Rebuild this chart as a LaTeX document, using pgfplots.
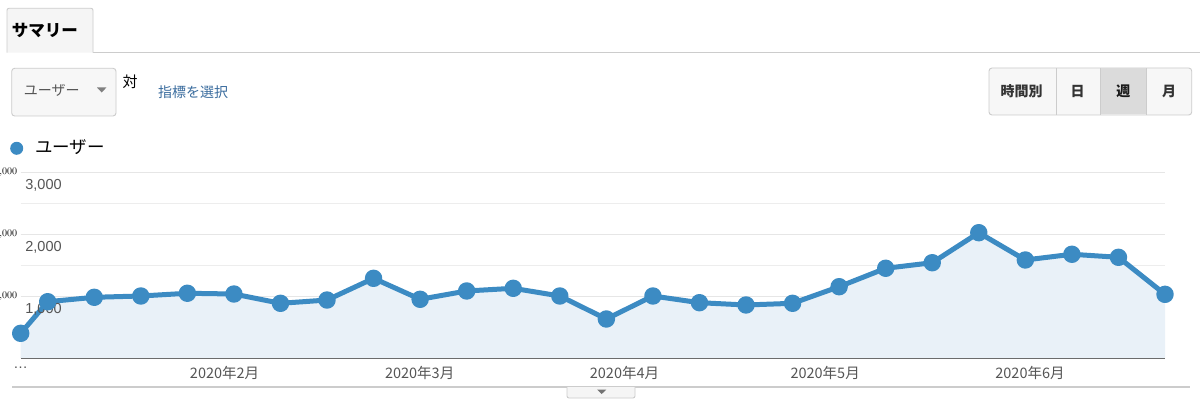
\documentclass[border=0pt]{standalone}
\usepackage{fontspec}
\setmainfont{Liberation Sans}
\newfontfamily\jp{Noto Sans CJK JP}
\usepackage{pgfplots}
\pgfplotsset{compat=1.18}
\definecolor{gaBlue}{HTML}{3C8BC3}
\definecolor{gaFill}{HTML}{E9F1F8}
\definecolor{gridc}{HTML}{E6E6E6}
\definecolor{linkc}{HTML}{3A6C9E}
\definecolor{borderc}{HTML}{CCCCCC}
\definecolor{tickc}{HTML}{555555}
\tikzset{ylab/.style={anchor=north west, inner sep=0pt, xshift=4.5pt, yshift=-7pt, font=\fontsize{14.5}{14.5}\selectfont, text=tickc}}
\begin{document}
\begin{tikzpicture}[x=1pt,y=1pt]
\fill[white] (0,0) rectangle (1200,410);
\useasboundingbox (0,0) rectangle (1200,410);
% tab
\draw[borderc, line width=0.9pt] (93,357.3) -- (1200,357.3);
\draw[borderc, fill=black!4, line width=0.9pt, rounded corners=2pt] (7,357.3) -- (7,401.7) -- (93,401.7) -- (93,357.3);
\node[font=\jp\bfseries\fontsize{16.5}{17}\selectfont] at (45,379.5) {サマリー};
% dropdown
\draw[borderc, fill=black!3, line width=0.9pt, rounded corners=3pt] (11.7,294) rectangle (116,341.7);
\node[font=\jp\fontsize{14}{14}\selectfont, text=tickc] at (51.7,320) {ユーザー};
\fill[black!50] (97,322.5) -- (106.4,322.5) -- (101.7,317.5) -- cycle;
\node[font=\jp\fontsize{15}{15}\selectfont] at (130,328) {対};
\node[font=\jp\fontsize{14}{14}\selectfont, text=linkc] at (193,318.3) {指標を選択};
% buttons
\draw[borderc, fill=black!3, line width=0.9pt, rounded corners=3pt] (989,295) rectangle (1191.7,342);
\fill[black!14] (1100.7,295.5) rectangle (1146,341.5);
\draw[borderc, line width=0.9pt] (1056,295) -- (1056,342);
\draw[borderc, line width=0.9pt] (1100.7,295) -- (1100.7,342);
\draw[borderc, line width=0.9pt] (1146,295) -- (1146,342);
\node[font=\jp\bfseries\fontsize{14}{14}\selectfont, text=black!80] at (1021.7,318.5) {時間別};
\node[font=\jp\bfseries\fontsize{14}{14}\selectfont, text=black!80] at (1077.7,318.5) {日};
\node[font=\jp\bfseries\fontsize{14}{14}\selectfont, text=black!90] at (1123.3,318.5) {週};
\node[font=\jp\bfseries\fontsize{14}{14}\selectfont, text=black!80] at (1169,318.5) {月};
% legend
\fill[gaBlue] (16.7,261.7) circle (6.5);
\node[font=\jp\fontsize{17.5}{17.5}\selectfont] at (70,263.3) {ユーザー};
% bottom line and tab
\draw[borderc, line width=1.2pt] (12,23) -- (1190,23);
\draw[borderc, fill=black!4, line width=0.9pt, rounded corners=2pt] (567,23) -- (567,12) -- (635,12) -- (635,23);
\fill[black!55] (597,20.5) -- (606.4,20.5) -- (601.7,16) -- cycle;
\begin{axis}[
  at={(20.7pt,52pt)}, anchor=origin, scale only axis,
  width=1144.3pt, height=186pt,
  xmin=0, xmax=24.58, ymin=0, ymax=3000,
  clip=false,
  axis lines*=left,
  x axis line style={draw=black!65, line width=1.2pt},
  y axis line style={draw=none},
  major tick length=0pt, minor tick length=0pt,
  ytick={1000,2000,3000},
  yticklabel={},
  minor ytick={500,1500,2500},
  ymajorgrids, yminorgrids,
  major grid style={gridc, line width=0.9pt},
  minor grid style={gridc!70!white, line width=0.9pt},
  xtick={0,4.38,8.57,12.97,17.28,21.68},
  xticklabels={{\rmfamily …},2020年2月,2020年3月,2020年4月,2020年5月,2020年6月},
  xticklabel style={font=\jp\fontsize{14.5}{14.5}\selectfont, text=tickc, yshift=-5pt},
]
\addplot[fill=gaFill, draw=none] coordinates {
(0,398) (0.58,908) (1.58,979) (2.58,1000) (3.58,1044) (4.58,1032) (5.58,882) (6.58,935) (7.58,1285)
(8.58,947) (9.58,1081) (10.58,1124) (11.58,1000) (12.58,629) (13.58,1000) (14.58,892) (15.58,855) (16.58,882)
(17.58,1150) (18.58,1447) (19.58,1537) (20.58,2021) (21.58,1581) (22.58,1673) (23.58,1624) (24.58,1027)
} \closedcycle;
\addplot[gaBlue, line width=5pt, line join=round, mark=*, mark size=6.2pt, mark options={draw=none, fill=gaBlue}] coordinates {
(0,398) (0.58,908) (1.58,979) (2.58,1000) (3.58,1044) (4.58,1032) (5.58,882) (6.58,935) (7.58,1285)
(8.58,947) (9.58,1081) (10.58,1124) (11.58,1000) (12.58,629) (13.58,1000) (14.58,892) (15.58,855) (16.58,882)
(17.58,1150) (18.58,1447) (19.58,1537) (20.58,2021) (21.58,1581) (22.58,1673) (23.58,1624) (24.58,1027)
};
\node[ylab] at (axis cs:0,1000) {1,000};
\node[ylab] at (axis cs:0,2000) {2,000};
\node[ylab] at (axis cs:0,3000) {3,000};
\end{axis}
\end{tikzpicture}
\end{document}
